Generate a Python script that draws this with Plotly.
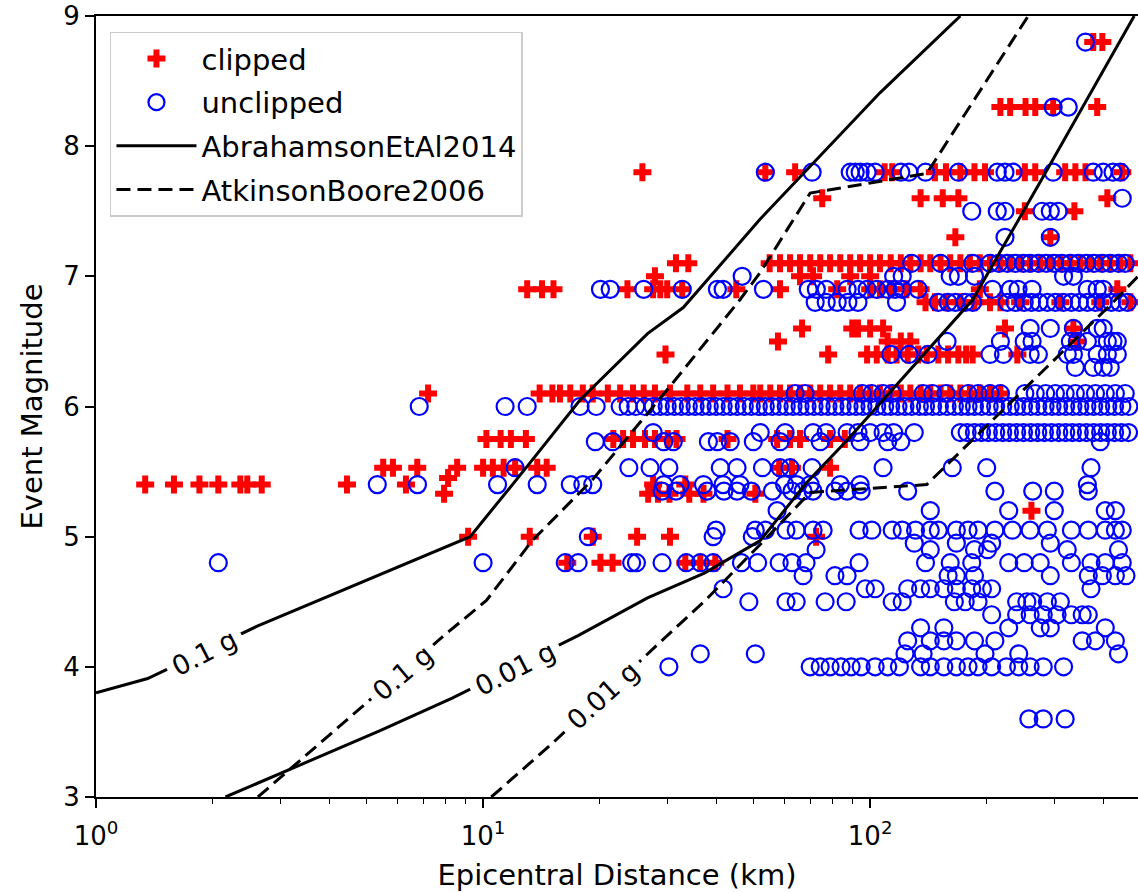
import math
import plotly.graph_objects as go

# ---------------- data ----------------
# clipped records: (event magnitude, [epicentral distances in km])
clipped_rows = [
    (8.8, [377, 398]),
    (8.3, [217, 230, 252, 267, 297, 386]),
    (7.8, [25.8, 53.6, 64, 109, 114, 147, 157, 171, 186, 198, 251, 267, 319, 339, 360, 448]),
    (7.6, [75.2, 135, 154, 169, 410]),
    (7.5, [251, 337]),
    (7.3, [166, 292]),
    (7.1, [31.5, 33.9, 55, 58.5, 62.1, 65.9, 70, 74.3, 78.8, 83.7, 88.8, 94.2, 100, 106, 113, 120,
           127, 135, 143, 152, 161, 171, 181, 192, 204, 217, 230, 244, 259, 275, 292, 310, 329,
           349, 370, 393, 417, 443, 470]),
    (7.0, [27.8, 65.9, 71.2, 88.8, 100]),
    (6.9, [13.0, 14.2, 15.2, 23.6, 27.5, 28.7, 29.9, 32.7, 45.1, 58.5, 82.2, 100, 106, 113, 124,
           135, 192, 435]),
    (6.8, [139, 147, 157, 171, 186, 204, 217, 244, 310, 393, 470]),
    (6.6, [66.7, 89.9, 93, 100, 108, 223, 335]),
    (6.5, [57.8, 111, 120, 127, 343]),
    (6.4, [29.6, 77.9, 98.2, 104, 111, 117, 125, 133, 140, 150, 159, 169, 177, 184, 240]),
    (6.1, [7.21, 14.0, 15.1, 15.8, 16.8, 18.1, 19.2, 21.0, 22.6, 24.4, 26.0, 27.8, 30.4, 33.7,
           36.4, 39.3, 42.8, 46.1, 49.9, 52.0, 55.2, 58.5, 62.1, 65.9, 70.0, 74.3, 78.8, 83.7,
           88.8, 94.2, 100, 106, 113, 120, 127, 135, 143, 152, 161, 171, 181, 192, 204, 217]),
    (5.75, [10.2, 11.1, 11.8, 12.9, 21.7, 23.0, 24.4, 26.2, 27.8, 30.0, 31.6, 42.8, 57.5, 62.1,
            65.9, 78.8, 86]),
    (5.53, [5.52, 5.85, 6.76, 8.57, 10.0, 10.6, 11.3, 12.1, 13.8, 14.6, 58.2, 62.8, 78.8]),
    (5.45, [8.12]),
    (5.4, [1.34, 1.59, 1.85, 2.07, 2.36, 2.46, 2.68, 4.45, 6.32, 27.5, 33.3]),
    (5.33, [7.93, 26.7, 28.3, 30.3, 34.1, 37.1, 50.5]),
    (5.2, [261]),
    (5.0, [9.15, 13.2, 19.2, 25.0, 30.4, 72.5]),
    (4.8, [16.5, 20.1, 21.6, 33.3, 36.4, 39.8]),
]

# unclipped records: (event magnitude, [epicentral distances in km])
unclipped_rows = [
    (8.8, [360]),
    (8.3, [297, 325]),
    (7.8, [53.6, 70.8, 88.8, 91.5, 94.2, 98.2, 103, 120, 126, 139, 169, 213, 223, 234, 297, 377,
           400, 424, 443]),
    (7.6, [448]),
    (7.5, [183, 213, 223, 278, 292, 306]),
    (7.3, [223, 292]),
    (7.1, [128, 152, 184, 204, 215, 226, 237, 249, 259, 272, 285, 299, 313, 329, 345, 362, 379,
           398, 417, 438, 456]),
    (7.0, [46.7, 115, 121, 161, 169, 186, 316, 335]),
    (6.9, [20.1, 21.3, 26.0, 32.7, 40.3, 41.7, 53, 69.2, 72.6, 77.0, 87.2, 93, 98.2, 104, 111, 116,
           121, 133, 207, 230, 241, 262, 364, 386, 400]),
    (6.8, [72.1, 77, 82.2, 87.6, 93, 117, 150, 159, 166, 176, 184, 226, 237, 250, 261, 273, 287,
           301, 316, 331, 347, 364, 382, 400, 420, 440, 462]),
    (6.6, [259, 292, 335, 386, 400]),
    (6.5, [158, 217, 250, 262, 329, 343, 364, 410, 424, 435]),
    (6.4, [113, 126, 141, 204, 221, 259, 272, 323, 335, 386, 410, 435]),
    (6.3, [339, 377, 400, 417]),
    (6.1, [64.0, 67.9, 95.5, 101, 108, 114, 137, 145, 157, 179, 190, 204, 217, 251, 267, 284, 301,
           319, 339, 360, 382, 405, 430, 456]),
    (6.0, [6.84, 11.4, 13.0, 17.8, 19.6, 22.6, 23.7, 24.8, 26.2, 27.5, 28.7, 29.9, 31.2, 32.5,
           33.9, 35.3, 36.8, 38.4, 40.0, 41.7, 43.5, 45.3, 47.3, 49.3, 51.4, 53.6, 55.8, 58.2,
           60.7, 63.2, 65.9, 68.7, 71.6, 74.7, 77.8, 81.1, 84.6, 88.2, 91.9, 95.8, 99.9, 104, 109,
           113, 118, 123, 128, 134, 139, 145, 151, 158, 165, 172, 179, 186, 194, 203, 211, 220,
           230, 239, 249, 260, 271, 283, 295, 307, 320, 334, 348, 363, 378, 394, 411, 428, 447,
           466]),
    (5.8, [27.5, 52.0, 60.3, 71.2, 77.0, 87.2, 93.0, 100, 108, 115, 130, 171, 178, 186, 194, 202,
           211, 220, 229, 239, 249, 260, 271, 282, 294, 307, 320, 333, 347, 362, 378, 394, 410,
           428, 446, 465]),
    (5.73, [19.5, 21.6, 29.3, 31.0, 38.2, 40.3, 43.5, 49.9, 58.5, 74.3, 94.2, 111, 120, 393]),
    (5.53, [12.1, 23.8, 27.0, 30.2, 41, 45.3, 52.7, 58.5, 62.1, 70.8, 108, 163, 200, 372]),
    (5.4, [5.33, 6.77, 10.9, 13.8, 16.8, 18.1, 19.2, 29.3, 32.3, 37.1, 41.7, 46.1, 60.1, 64.5, 70,
           83.7, 94.2, 364]),
    (5.35, [29, 31.5, 37.9, 41.9, 45.3, 49.3, 55.9, 62.8, 67.1, 71.2, 81.1, 87.2, 94.8, 125, 210,
            263, 299, 366]),
    (5.2, [57.5, 143, 228, 299, 405, 430]),
    (5.05, [40, 50.5, 53.6, 60.6, 64.4, 71.2, 75.6, 93.6, 101, 114, 121, 131, 143, 150, 167, 179,
            190, 210, 233, 259, 287, 331, 366, 405, 430, 448]),
    (5.0, [18.7, 39.3, 49.6]),
    (4.95, [130, 167, 206, 292]),
    (4.9, [72.5, 143, 186, 201, 323, 438]),
    (4.8, [2.07, 10.0, 16.3, 17.6, 24.2, 24.9, 29, 33.5, 36.4, 39.3, 46.5, 51.2, 58.2, 62.8, 68.3,
           93.6, 139, 161, 183, 228, 250, 275, 331, 372, 405, 448]),
    (4.7, [67.1, 81.1, 87.2, 159, 167, 186, 292, 366, 398, 430, 458]),
    (4.6, [41.7, 97.2, 103, 125, 135, 143, 155, 167, 183, 195, 206, 372]),
    (4.5, [48.6, 60.6, 64.4, 76.5, 86.7, 114, 121, 165, 176, 190, 239, 254, 263, 287, 310]),
    (4.4, [206, 239, 259, 280, 304, 331, 353, 366]),
    (4.3, [135, 155, 228, 275, 292, 405]),
    (4.2, [125, 143, 155, 167, 186, 210, 353, 382, 430]),
    (4.1, [36.4, 50.5, 123, 137, 198, 242, 438]),
    (4.0, [30.2, 70.0, 74.3, 78.8, 84.1, 89.3, 94.8, 103, 111, 119, 135, 143, 155, 167, 179, 190,
           206, 225, 242, 259, 280, 316]),
    (3.6, [257, 280, 319]),
]

# contour lines (distance km, magnitude)
ask14_01g_dist = [1.0, 1.36, 2.60, 9.26, 13.0, 17.8, 26.6, 32.9, 52.0, 67.1, 106, 171]
ask14_01g_mag = [3.80, 3.91, 4.31, 5.00, 5.54, 6.05, 6.56, 6.76, 7.44, 7.79, 8.41, 9.0]
ask14_001g_dist = [2.16, 5.42, 8.32, 17.6, 26.6, 37.3, 52.0, 68.3, 87.2, 184, 283, 481]
ask14_001g_mag = [3.0, 3.51, 3.76, 4.24, 4.53, 4.72, 4.97, 5.41, 5.74, 6.82, 7.79, 9.0]
ab06_01g_dist = [2.62, 4.75, 8.07, 10.2, 13.4, 19.2, 30.9, 46.1, 52.0, 70.0, 140, 256]
ab06_01g_mag = [3.0, 3.67, 4.26, 4.51, 4.97, 5.44, 6.18, 6.82, 7.03, 7.64, 7.79, 9.0]
ab06_001g_dist = [10.5, 15.2, 27.3, 37.5, 52.0, 70.0, 140, 424, 492]
ab06_001g_mag = [3.0, 3.42, 4.13, 4.51, 4.94, 5.34, 5.40, 6.80, 7.00]

x_tick_vals = [1, 10, 100]
x_tick_text = ["10<sup>0</sup>", "10<sup>1</sup>", "10<sup>2</sup>"]
y_tick_vals = [3, 4, 5, 6, 7, 8, 9]


def flatten(rows):
    xs, ys = [], []
    for mag, dists in rows:
        xs.extend(dists)
        ys.extend([mag] * len(dists))
    return xs, ys


cx, cy = flatten(clipped_rows)
ux, uy = flatten(unclipped_rows)

FONT = "DejaVu Sans"
DASH = "14px,7px"
fig = go.Figure()

fig.add_trace(go.Scatter(
    x=cx, y=cy, mode="markers", name="clipped", legendgroup="c",
    marker=dict(symbol="cross", size=15, color="#ff0000", line=dict(width=0)),
))
fig.add_trace(go.Scatter(
    x=ux, y=uy, mode="markers", name="unclipped", legendgroup="u",
    marker=dict(symbol="circle-open", size=17, color="#0000ff", line=dict(width=2.2, color="#0000ff")),
))
fig.add_trace(go.Scatter(
    x=ask14_01g_dist, y=ask14_01g_mag, mode="lines", name="AbrahamsonEtAl2014",
    line=dict(color="black", width=3), legendgroup="ask",
))
fig.add_trace(go.Scatter(
    x=ab06_01g_dist, y=ab06_01g_mag, mode="lines", name="AtkinsonBoore2006",
    line=dict(color="black", width=3, dash=DASH), legendgroup="ab",
))
fig.add_trace(go.Scatter(
    x=ask14_001g_dist, y=ask14_001g_mag, mode="lines", showlegend=False,
    line=dict(color="black", width=3), legendgroup="ask",
))
fig.add_trace(go.Scatter(
    x=ab06_001g_dist, y=ab06_001g_mag, mode="lines", showlegend=False,
    line=dict(color="black", width=3, dash=DASH), legendgroup="ab",
))

# contour labels
labels = [
    ("0.1 g", 1.91, 4.11, -27),
    ("0.1 g", 6.21, 3.96, -40),
    ("0.01 g", 12.1, 3.99, -27),
    ("0.01 g", 20.4, 3.78, -42),
]
for text, xd, yd, ang in labels:
    fig.add_annotation(
        x=math.log10(xd), y=yd, xref="x", yref="y", text=text, showarrow=False,
        textangle=ang, font=dict(family=FONT, size=27, color="black"),
        bgcolor="white", borderpad=6,
    )

fig.update_layout(
    width=1138, height=892,
    margin=dict(l=96, r=0, t=16, b=95),
    paper_bgcolor="white", plot_bgcolor="white",
    font=dict(family=FONT, size=26, color="black"),
    showlegend=True,
    legend=dict(
        x=0.0134, y=0.98, xanchor="left", yanchor="top",
        bgcolor="rgba(255,255,255,0.8)", bordercolor="#cccccc", borderwidth=1.5,
        font=dict(family=FONT, size=29, color="black"),
        traceorder="grouped", tracegroupgap=3, itemwidth=80,
    ),
    xaxis=dict(
        type="log", range=[0, math.log10(492)],
        tickvals=x_tick_vals, ticktext=x_tick_text,
        ticks="outside", ticklen=9, tickwidth=1.5, tickcolor="black",
        ticklabelstandoff=6,
        minor=dict(ticks="outside", ticklen=5, tickwidth=1.2, tickcolor="black",
                   tickvals=[2, 3, 4, 5, 6, 7, 8, 9, 20, 30, 40, 50, 60, 70, 80, 90, 200, 300, 400]),
        showline=True, linecolor="black", linewidth=2, mirror=True,
        showgrid=False, zeroline=False,
        tickfont=dict(family=FONT, size=26, color="black"),
        title=dict(text="Epicentral Distance (km)", font=dict(family=FONT, size=29, color="black"),
                   standoff=16),
    ),
    yaxis=dict(
        range=[3, 9], tickvals=y_tick_vals,
        ticks="outside", ticklen=9, tickwidth=1.5, tickcolor="black",
        showline=True, linecolor="black", linewidth=2, mirror=False,
        showgrid=False, zeroline=False,
        tickfont=dict(family=FONT, size=26, color="black"),
        title=dict(text="Event Magnitude", font=dict(family=FONT, size=29, color="black"),
                   standoff=12),
    ),
)

fig.write_html("out.html")
